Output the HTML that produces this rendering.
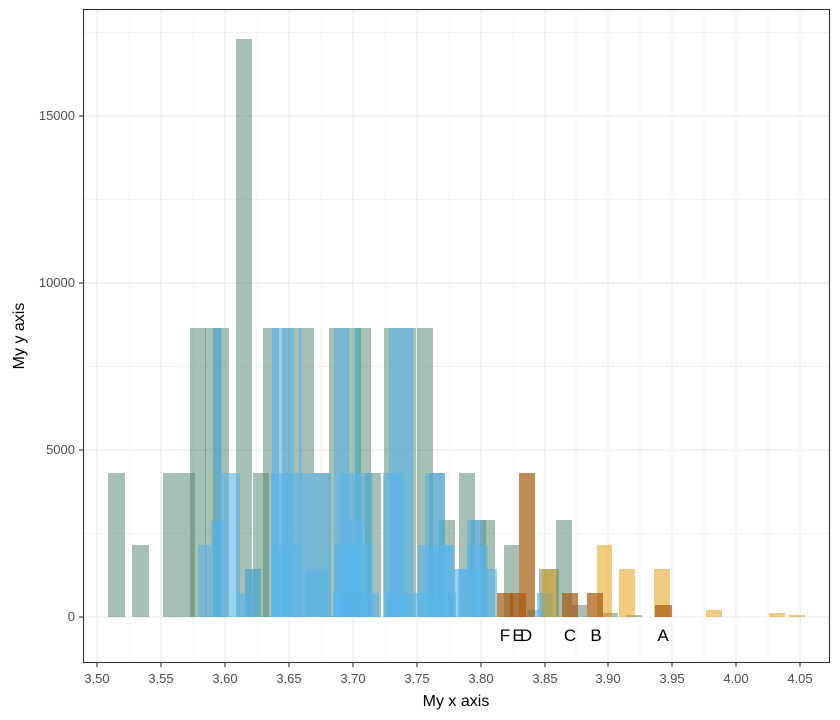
<!DOCTYPE html>
<html><head><meta charset="utf-8"><style>
html,body{margin:0;padding:0;background:#fff;}
svg{display:block;font-family:"Liberation Sans",sans-serif;}
.g{fill:rgb(80,130,105);fill-opacity:0.5}
.b{fill:rgb(86,180,233);fill-opacity:0.6}
.o{fill:rgb(165,88,12);fill-opacity:0.7}
.y{fill:rgb(225,151,0);fill-opacity:0.5}
.tl{font-size:13px;fill:#4d4d4d}
</style></head><body>
<svg width="840" height="720" viewBox="0 0 840 720">
<rect x="0" y="0" width="840" height="720" fill="#fff"/>
<g stroke="#f2f2f2" stroke-width="1">
<line x1="83" x2="830" y1="32.5" y2="32.5"/><line x1="83" x2="830" y1="199.5" y2="199.5"/>
<line x1="83" x2="830" y1="366.5" y2="366.5"/><line x1="83" x2="830" y1="533.5" y2="533.5"/>
<line x1="129" x2="129" y1="9" y2="663"/><line x1="193" x2="193" y1="9" y2="663"/>
<line x1="257" x2="257" y1="9" y2="663"/><line x1="321" x2="321" y1="9" y2="663"/>
<line x1="385" x2="385" y1="9" y2="663"/><line x1="449" x2="449" y1="9" y2="663"/>
<line x1="513" x2="513" y1="9" y2="663"/><line x1="576" x2="576" y1="9" y2="663"/>
<line x1="640" x2="640" y1="9" y2="663"/><line x1="704" x2="704" y1="9" y2="663"/>
<line x1="768" x2="768" y1="9" y2="663"/>
</g>
<g stroke="#ebebeb" stroke-width="1.3">
<line x1="83" x2="830" y1="617" y2="617"/><line x1="83" x2="830" y1="450" y2="450"/>
<line x1="83" x2="830" y1="283" y2="283"/><line x1="83" x2="830" y1="116" y2="116"/>
<line x1="97" x2="97" y1="9" y2="663"/><line x1="161" x2="161" y1="9" y2="663"/>
<line x1="225" x2="225" y1="9" y2="663"/><line x1="289" x2="289" y1="9" y2="663"/>
<line x1="353" x2="353" y1="9" y2="663"/><line x1="417" x2="417" y1="9" y2="663"/>
<line x1="481" x2="481" y1="9" y2="663"/><line x1="545" x2="545" y1="9" y2="663"/>
<line x1="608" x2="608" y1="9" y2="663"/><line x1="672" x2="672" y1="9" y2="663"/>
<line x1="736" x2="736" y1="9" y2="663"/><line x1="800" x2="800" y1="9" y2="663"/>
</g>
<g class="g">
<rect x="108" y="473" width="17" height="144"/>
<rect x="132" y="545" width="17" height="72"/>
<rect x="163" y="473" width="16" height="144"/>
<rect x="179" y="473" width="16" height="144"/>
<rect x="190" y="328" width="16" height="289"/>
<rect x="205" y="328" width="16" height="289"/>
<rect x="213" y="328" width="16" height="289"/>
<rect x="236" y="39" width="16" height="578"/>
<rect x="245" y="569" width="16" height="48"/>
<rect x="253" y="473" width="16" height="144"/>
<rect x="263" y="328" width="16" height="289"/>
<rect x="282" y="328" width="16" height="289"/>
<rect x="298" y="328" width="16" height="289"/>
<rect x="314" y="473" width="16" height="144"/>
<rect x="329" y="328" width="16" height="289"/>
<rect x="345" y="328" width="16" height="289"/>
<rect x="355" y="328" width="16" height="289"/>
<rect x="365" y="473" width="16" height="144"/>
<rect x="384" y="328" width="16" height="289"/>
<rect x="400" y="328" width="16" height="289"/>
<rect x="417" y="328" width="16" height="289"/>
<rect x="429" y="473" width="16" height="144"/>
<rect x="439" y="520" width="16" height="97"/>
<rect x="459" y="473" width="16" height="144"/>
<rect x="470" y="520" width="16" height="97"/>
<rect x="480" y="520" width="15" height="97"/>
<rect x="504" y="545" width="15" height="72"/>
<rect x="539" y="569" width="20" height="48"/>
<rect x="556" y="520" width="16" height="97"/>
<rect x="572" y="605" width="15" height="12"/>
<rect x="603" y="613" width="15" height="4"/>
<rect x="626" y="615" width="16" height="2"/>
</g>
<g class="b">
<rect x="198" y="545" width="13" height="72"/>
<rect x="211" y="521" width="13" height="96"/>
<rect x="214" y="328" width="8" height="289"/>
<rect x="221" y="473" width="19" height="144"/>
<rect x="237" y="593" width="16" height="24"/>
<rect x="245" y="569" width="16" height="48"/>
<rect x="272" y="328" width="22" height="289"/>
<rect x="271" y="473" width="60" height="144"/>
<rect x="272" y="545" width="28" height="72"/>
<rect x="299" y="328" width="3" height="289"/>
<rect x="305" y="569" width="23" height="48"/>
<rect x="334" y="328" width="15" height="289"/>
<rect x="355" y="328" width="5" height="289"/>
<rect x="340" y="473" width="33" height="144"/>
<rect x="348" y="521" width="15" height="96"/>
<rect x="334" y="545" width="37" height="72"/>
<rect x="333" y="593" width="46" height="24"/>
<rect x="389" y="328" width="24" height="289"/>
<rect x="383" y="473" width="21" height="144"/>
<rect x="386" y="593" width="70" height="24"/>
<rect x="418" y="545" width="36" height="72"/>
<rect x="425" y="473" width="16" height="144"/>
<rect x="454" y="569" width="12" height="48"/>
<rect x="440" y="473" width="5" height="144"/>
<rect x="440" y="545" width="13" height="72"/>
<rect x="467" y="520" width="16" height="97"/>
<rect x="467" y="545" width="21" height="72"/>
<rect x="458" y="569" width="39" height="48"/>
<rect x="537" y="593" width="16" height="24"/>
<rect x="527" y="610" width="15" height="7"/>
</g>
<g class="y">
<rect x="597" y="545" width="15" height="72"/>
<rect x="619" y="569" width="16" height="48"/>
<rect x="654" y="569" width="16" height="48"/>
<rect x="706" y="610" width="16" height="7"/>
<rect x="769" y="613" width="16" height="4"/>
<rect x="789" y="615" width="16" height="2"/>
<rect x="542" y="569" width="15" height="48"/>
</g>
<g class="o">
<rect x="497" y="593" width="16" height="24"/>
<rect x="510" y="593" width="16" height="24"/>
<rect x="519" y="473" width="16" height="144"/>
<rect x="562" y="593" width="16" height="24"/>
<rect x="587" y="593" width="16" height="24"/>
<rect x="655" y="605" width="17" height="12"/>
</g>
<g font-size="17" fill="#000" text-anchor="middle">
<text x="505" y="641">F</text><text x="518" y="641">E</text><text x="526" y="641">D</text>
<text x="570" y="641">C</text><text x="596" y="641">B</text><text x="663" y="641">A</text>
</g>
<rect x="83.5" y="9.5" width="746" height="653" fill="none" stroke="#333" stroke-width="1.1"/>
<g stroke="#333" stroke-width="1.1">
<line x1="79" x2="83" y1="617" y2="617"/><line x1="79" x2="83" y1="450" y2="450"/>
<line x1="79" x2="83" y1="283" y2="283"/><line x1="79" x2="83" y1="116" y2="116"/>
<line x1="97" x2="97" y1="663" y2="667"/><line x1="161" x2="161" y1="663" y2="667"/>
<line x1="225" x2="225" y1="663" y2="667"/><line x1="289" x2="289" y1="663" y2="667"/>
<line x1="353" x2="353" y1="663" y2="667"/><line x1="417" x2="417" y1="663" y2="667"/>
<line x1="481" x2="481" y1="663" y2="667"/><line x1="545" x2="545" y1="663" y2="667"/>
<line x1="608" x2="608" y1="663" y2="667"/><line x1="672" x2="672" y1="663" y2="667"/>
<line x1="736" x2="736" y1="663" y2="667"/><line x1="800" x2="800" y1="663" y2="667"/>
</g>
<g class="tl" text-anchor="end">
<text x="75" y="621">0</text><text x="75" y="454">5000</text>
<text x="75" y="287">10000</text><text x="75" y="120">15000</text>
</g>
<g class="tl" text-anchor="middle">
<text x="97" y="683">3.50</text><text x="161" y="683">3.55</text><text x="225" y="683">3.60</text>
<text x="289" y="683">3.65</text><text x="353" y="683">3.70</text><text x="417" y="683">3.75</text>
<text x="481" y="683">3.80</text><text x="545" y="683">3.85</text><text x="608" y="683">3.90</text>
<text x="672" y="683">3.95</text><text x="736" y="683">4.00</text><text x="800" y="683">4.05</text>
</g>
<text x="456" y="706" font-size="16" text-anchor="middle">My x axis</text>
<text transform="translate(24,336) rotate(-90)" font-size="16" text-anchor="middle">My y axis</text>
</svg>
</body></html>
